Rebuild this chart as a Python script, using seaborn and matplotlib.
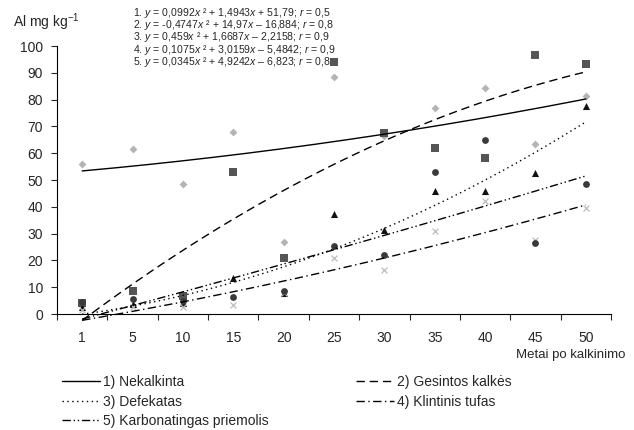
import numpy as np
import pandas as pd
import matplotlib
matplotlib.use("Agg")
import matplotlib.pyplot as plt
import seaborn as sns

# Years after liming (category axis)
years = ["1", "5", "10", "15", "20", "25", "30", "35", "40", "45", "50"]

# Mobile Al, mg/kg, by treatment
nekalkinta = [55.9, 61.5, 48.5, 68.0, 26.9, 88.3, 66.5, 76.9, 84.2, 63.3, 81.3]
gesintos_kalkes = [4.0, 8.6, 6.7, 53.1, 20.8, 94.1, 67.6, 62.1, 58.3, 96.6, 93.2]
defekatas = [2.5, 3.7, 4.0, 13.3, 7.7, 37.4, 31.3, 46.0, 45.9, 52.5, 77.6]
klintinis_tufas = [1.5, 2.5, 2.5, 3.4, 8.0, 20.8, 16.4, 31.0, 42.3, 27.5, 39.6]
karbonatingas = [4.5, 5.6, 5.0, 6.2, 8.6, 25.5, 22.0, 53.0, 64.8, 26.4, 48.4]

series_names = ["1) Nekalkinta", "2) Gesintos kalkės", "3) Defekatas",
                "4) Klintinis tufas", "5) Karbonatingas priemolis"]

# Quadratic trend coefficients (a, b, c) for y = a*x^2 + b*x + c
coef_a = [0.0992, -0.4747, 0.459, 0.1075, 0.0345]
coef_b = [1.4943, 14.97, 1.6687, 3.0159, 4.9242]
coef_c = [51.79, -16.884, -2.2158, -5.4842, -6.823]

equations = [
    "1. $y$ = 0,0992$x$ ² + 1,4943$x$ + 51,79; $r$ = 0,5",
    "2. $y$ = -0,4747$x$ ² + 14,97$x$ – 16,884; $r$ = 0,8",
    "3. $y$ = 0,459$x$ ² + 1,6687$x$ – 2,2158; $r$ = 0,9",
    "4. $y$ = 0,1075$x$ ² + 3,0159$x$ – 5,4842; $r$ = 0,9",
    "5. $y$ = 0,0345$x$ ² + 4,9242$x$ – 6,823; $r$ = 0,8",
]

sns.set_style("ticks")
plt.rcParams["font.family"] = ["Liberation Sans", "DejaVu Sans"]
plt.rcParams["mathtext.fontset"] = "custom"
plt.rcParams["mathtext.rm"] = "Liberation Sans"
plt.rcParams["mathtext.it"] = "Liberation Sans:italic"

values = [nekalkinta, gesintos_kalkes, defekatas, klintinis_tufas, karbonatingas]
markers = ["D", "s", "^", "x", "o"]
colors = ["#b4b4b4", "#555555", "#111111", "#bdbdbd", "#3a3a3a"]
sizes = [16, 26, 26, 18, 24]
dash_styles = ["-", (0, (6, 3.5)), (0, (1, 2.5)), (0, (6, 2.5, 1, 2.5)),
               (0, (6, 2, 1, 2, 1, 2))]

pos = np.arange(1, len(years) + 1)

fig = plt.figure(figsize=(6.34, 4.30), dpi=100)
ax = fig.add_axes([57 / 634, 1 - 314 / 430, (611 - 57) / 634, 268 / 430])

for vals, mk, col, sz in zip(values, markers, colors, sizes):
    df = pd.DataFrame({"pos": pos, "al": vals})
    lw = 0.9 if mk == "x" else 0
    sns.scatterplot(data=df, x="pos", y="al", marker=mk, color=col, s=sz,
                    linewidth=lw, ax=ax, legend=False, zorder=3)

# Trend curves from the fitted coefficients
xf = np.linspace(1, 11, 200)
handles = []
for name, a, b, c, ls in zip(series_names, coef_a, coef_b, coef_c, dash_styles):
    yf = a * xf ** 2 + b * xf + c
    sns.lineplot(x=xf, y=yf, color="black", linewidth=1.0, linestyle=ls,
                 ax=ax, sort=False, estimator=None, zorder=4, legend=False)
    line = ax.lines[-1]
    line.set_clip_on(False)
    line.set_label(name)
    handles.append(line)

if ax.get_legend() is not None:
    ax.get_legend().remove()

ax.set_xlim(0.5, 11.5)
ax.set_ylim(0, 100)
ax.set_yticks(np.arange(0, 101, 10))
ax.set_xticks(pos)
ax.set_xticklabels(years)
ax.set_xticks(np.arange(0.5, 11.6, 1), minor=True)
ax.tick_params(axis="x", which="major", length=0, pad=12, labelsize=10)
ax.tick_params(axis="x", which="minor", length=4, width=0.8, direction="out")
ax.tick_params(axis="y", length=4, width=0.8, direction="out", pad=6,
               labelsize=10)
ax.set_xlabel("")
ax.set_ylabel("")
for side in ("top", "right"):
    ax.spines[side].set_visible(False)
for side in ("left", "bottom"):
    ax.spines[side].set_linewidth(0.8)
    ax.spines[side].set_color("black")

fig.text(13 / 634, 1 - 22 / 430, "Al mg kg$^{-1}$", fontsize=10,
         ha="left", va="center")
fig.text(625 / 634, 1 - 355 / 430, "Metai po kalkinimo", fontsize=9.5,
         ha="right", va="center")

# Regression equations as one text block
fig.text(133 / 634, 1 - 6 / 430, "\n".join(equations), fontsize=7.6,
         ha="left", va="top", linespacing=0.82)

order = [0, 2, 4, 1, 3]
fig.legend([handles[i] for i in order], [series_names[i] for i in order],
           loc="upper left", bbox_to_anchor=(62 / 634, 1 - 375 / 430),
           ncol=2, frameon=False, fontsize=10, handlelength=2.7,
           handletextpad=0.25, labelspacing=0.4, columnspacing=6.3,
           borderaxespad=0, borderpad=0)

fig.savefig("out.png", dpi=100)
